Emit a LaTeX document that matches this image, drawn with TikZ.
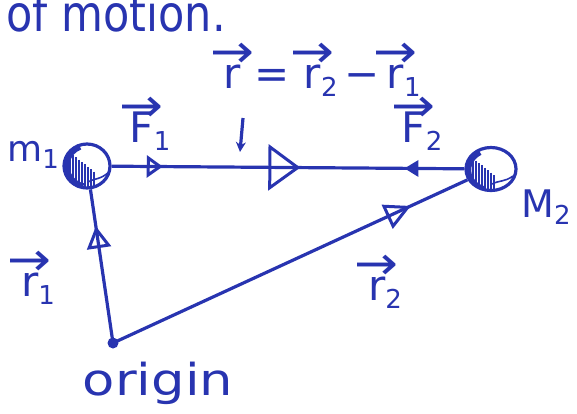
\documentclass[tikz,border=0pt]{standalone}
\usepackage{fontspec}
\setmainfont{DejaVu Sans}
\usetikzlibrary{arrows.meta,decorations.markings,shapes.geometric}
\definecolor{ink}{RGB}{40,52,176}
\newcommand\vv[1]{\begin{tabular}[b]{@{}c@{}}\makebox[0pt]{\scalebox{1.25}[1.1]{→}}\\[-0.6em]#1\end{tabular}}
\newcommand\sbs[1]{\raisebox{-0.35ex}{\fontsize{26}{26}\selectfont #1}}
\begin{document}
\begin{tikzpicture}[x=1pt,y=-1pt,line width=3.2pt,draw=ink,
  hand/.style={text=ink,font=\fontsize{42}{46}\selectfont,inner sep=0pt},
  mass/.style={ellipse,draw=ink,line width=3.2pt,inner sep=0pt},
  vl/.style={line width=1.6pt,draw=ink}]
\useasboundingbox (0,0) rectangle (577,413);
\clip (0,0) rectangle (577,413);
% masses
\node[mass,minimum width=46pt,minimum height=44pt] (m1) at (87,166) {};
\node[mass,minimum width=50pt,minimum height=43pt] (m2) at (491,169) {};
\coordinate (O) at (113,343);
% hatching m1
\begin{scope}
  \clip (87,166) ellipse (22pt and 21pt);
  \foreach \x in {67,70,...,95} \draw[vl] (\x,{150+0.8*(\x-67)}) -- (\x,195);
  \draw[vl] (88,182) .. controls (95,178) and (100,180) .. (109,172);
  \draw[line width=5pt] (87,166) ++(100:20) arc[start angle=100,end angle=250,radius=20];
\end{scope}
% hatching m2
\begin{scope}
  \clip (491,169) ellipse (24pt and 20.5pt);
  \foreach \x in {470,473,...,494} \draw[vl] (\x,{155+0.8*(\x-469)}) -- (\x,198);
  \draw[vl] (492,184) .. controls (500,180) and (505,182) .. (513,176);
  \draw[line width=5pt] (491,169) ++(110:21) arc[start angle=110,end angle=240,x radius=23,y radius=20];
\end{scope}
% connectors
\draw[ink,postaction={decorate},decoration={markings,
  mark=at position 0.145 with {\arrow[ink]{Triangle[open,length=16pt,width=22pt,line width=3pt]}},
  mark=at position 0.535 with {\arrow[ink]{Triangle[open,length=32pt,width=46pt,line width=3pt]}},
  mark=at position 0.83 with {\arrowreversed[ink]{Triangle[length=14pt,width=16pt]}}}]
  (m1) -- (m2);
\draw[ink,postaction={decorate},decoration={markings,
  mark=at position 0.76 with {\arrow[ink]{Triangle[open,length=22pt,width=24pt,line width=3pt]}}}]
  (O) -- (m1);
\draw[ink,postaction={decorate},decoration={markings,
  mark=at position 0.84 with {\arrow[ink]{Triangle[open,length=26pt,width=26pt,line width=3pt]}}}]
  (O) -- (m2);
\fill[ink] (O) circle (5.5pt);
% labels
\node[hand,font=\fontsize{50}{54}\selectfont,xscale=0.86,anchor=base west] (title) at (5,31) {of motion.};
\node[hand,font=\fontsize{36}{40}\selectfont] (lm1) at (33,155) {m\sbs{1}};
\node[hand,font=\fontsize{38}{42}\selectfont] (lm2) at (546,207) {M\sbs{2}};
\node[hand,anchor=base] (lF1) at (150,142) {\vv{F}\sbs{1}};
\node[hand,anchor=base] (lF2) at (422,142) {\vv{F}\sbs{2}};
\node[hand,anchor=base] (lr) at (322,88) {\vv{r}\,\,=\,\,\vv{r}\sbs{2}\,−\,\vv{r}\sbs{1}};
\node[hand,anchor=base] (lr1) at (38,296) {\vv{r}\sbs{1}};
\node[hand,anchor=base] (lr2) at (385,300) {\vv{r}\sbs{2}};
\node[hand,font=\fontsize{44}{48}\selectfont,xscale=1.2] (lo) at (158,383) {origin};
\coordinate (d1) at (243,118);
\coordinate (d2) at (240,152);
\draw[ink,-{Stealth[length=10pt,width=10pt]}] (d1) -- (d2);
\end{tikzpicture}
\end{document}
